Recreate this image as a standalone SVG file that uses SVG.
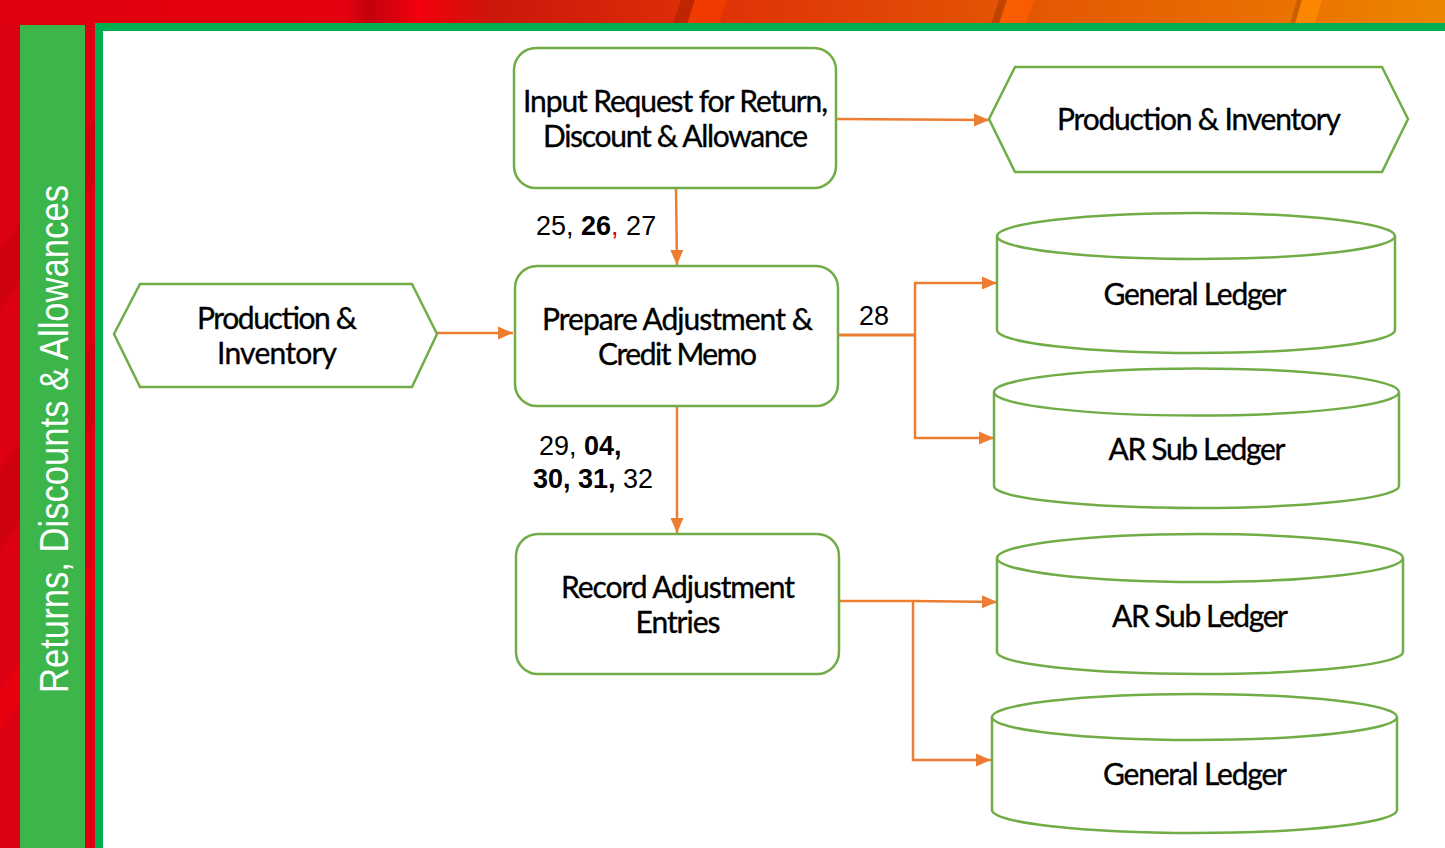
<svg xmlns="http://www.w3.org/2000/svg" width="1445" height="848" viewBox="0 0 1445 848">
  <defs>
    <linearGradient id="band" x1="0" y1="0" x2="1445" y2="0" gradientUnits="userSpaceOnUse">
      <stop offset="0" stop-color="#e1000f"/>
      <stop offset="0.24" stop-color="#e3000f"/>
      <stop offset="0.255" stop-color="#c3000e"/>
      <stop offset="0.29" stop-color="#f2000c"/>
      <stop offset="0.34" stop-color="#cc160a"/>
      <stop offset="0.5" stop-color="#df3208"/>
      <stop offset="0.7" stop-color="#e35504"/>
      <stop offset="0.88" stop-color="#ea7000"/>
      <stop offset="1" stop-color="#ec8600"/>
    </linearGradient>
    <marker id="arrow" markerUnits="userSpaceOnUse" markerWidth="16" markerHeight="14" refX="15" refY="7" orient="auto">
      <path d="M0,0.5 L15,7 L0,13.5 z" fill="#ed7d31"/>
    </marker>
    <style>
      .node { fill: #ffffff; stroke: #70ad47; stroke-width: 2.5; }
      .label { font-family: Lato, "Liberation Sans", sans-serif; font-size: 30px; fill: #000000; stroke: #000000; stroke-width: 0.35; text-anchor: middle; }
      .num { font-family: "Liberation Sans", Arial, sans-serif; font-size: 27px; fill: #000000; }
      .b { font-weight: bold; }
      .conn { fill: none; stroke: #ed7d31; stroke-width: 2.5; }
    </style>
  </defs>

  <!-- page background -->
  <rect x="0" y="0" width="1445" height="848" fill="#dc0012"/>
  <rect x="0" y="0" width="1445" height="24" fill="url(#band)"/>
  <!-- diagonal streaks in the header band -->
  <polygon points="673,24 681,0 695,0 687,24" fill="#b52400" opacity="0.8"/>
  <polygon points="687,24 695,0 727,0 719,24" fill="#f23c00" opacity="0.9"/>
  <polygon points="991,24 999,0 1007,0 999,24" fill="#b84000" opacity="0.8"/>
  <polygon points="999,24 1007,0 1034,0 1026,24" fill="#fb5e00" opacity="0.9"/>
  <polygon points="1290,24 1297,0 1302,0 1295,24" fill="#c25a00" opacity="0.8"/>
  <polygon points="1295,24 1302,0 1322,0 1315,24" fill="#ff8800" opacity="0.9"/>
  <!-- diagonal streaks in the side strip -->
  <polygon points="0,250 95,120 95,180 0,310" fill="#c7000f" opacity="0.6"/>
  <polygon points="0,470 95,340 95,420 0,550" fill="#c7000f" opacity="0.6"/>
  <polygon points="0,690 95,560 95,600 0,730" fill="#f0000e" opacity="0.6"/>

  <!-- title strip -->
  <rect x="20" y="25" width="65" height="823" fill="#3cb54a"/>
  <text transform="translate(68,439) rotate(-90)" text-anchor="middle" textLength="508" lengthAdjust="spacingAndGlyphs" font-family="'Liberation Sans Narrow', 'Liberation Sans', sans-serif" font-size="40" fill="#ffffff">Returns, Discounts &amp; Allowances</text>

  <!-- content frame -->
  <rect x="95" y="23" width="1350" height="825" fill="#00b050"/>
  <rect x="103" y="31" width="1342" height="817" fill="#ffffff"/>

  <!-- connectors -->
  <g id="connectors">
    <path class="conn" d="M837,119 L989,120" marker-end="url(#arrow)"/>
    <path class="conn" d="M676,189 L677,265" marker-end="url(#arrow)"/>
    <path class="conn" d="M437,333 L513,333" marker-end="url(#arrow)"/>
    <path class="conn" d="M838,335 H915" style="stroke-width:3.2"/>
    <path class="conn" d="M915,335 V283 H997" marker-end="url(#arrow)"/>
    <path class="conn" d="M915,335 V438 H994" marker-end="url(#arrow)"/>
    <path class="conn" d="M677,406 V533" marker-end="url(#arrow)"/>
    <path class="conn" d="M839,601 H913 L997,602" marker-end="url(#arrow)"/>
    <path class="conn" d="M913,601 V760 H991" marker-end="url(#arrow)"/>
  </g>

  <!-- connector labels -->
  <g id="connector-labels">
    <text class="num" x="536" y="235">25, <tspan class="b">26</tspan><tspan fill="#e00000">,</tspan> 27</text>
    <text class="num" x="859" y="325">28</text>
    <text class="num" x="539" y="455">29, <tspan class="b">04,</tspan></text>
    <text class="num" x="533" y="488"><tspan class="b">30, 31,</tspan> 32</text>
  </g>

  <g id="input-request">
    <rect class="node" x="514" y="48" width="322" height="140" rx="22"/>
    <text class="label" x="675.5" y="112" textLength="305">Input Request for Return,</text>
    <text class="label" x="675.5" y="147" textLength="265">Discount &amp; Allowance</text>
  </g>

  <g id="production-inventory-out">
    <polygon class="node" points="989,119 1015,67 1382,67 1408,119 1382,172 1015,172"/>
    <text class="label" x="1199" y="130" textLength="284">Production &amp; Inventory</text>
  </g>

  <g id="production-inventory-in">
    <polygon class="node" points="114,334 140,284 412,284 437,334 412,387 140,387"/>
    <text class="label" x="277" y="329" textLength="160">Production &amp;</text>
    <text class="label" x="277" y="364" textLength="120">Inventory</text>
  </g>

  <g id="prepare-adjustment">
    <rect class="node" x="515" y="266" width="323" height="140" rx="22"/>
    <text class="label" x="677.5" y="330" textLength="271">Prepare Adjustment &amp;</text>
    <text class="label" x="677.5" y="365" textLength="159">Credit Memo</text>
  </g>

  <g id="record-adjustment">
    <rect class="node" x="516" y="534" width="323" height="140" rx="22"/>
    <text class="label" x="678" y="598" textLength="234">Record Adjustment</text>
    <text class="label" x="678" y="633" textLength="85">Entries</text>
  </g>

  <g id="general-ledger-1">
    <path class="node" d="M997,236 V330 A199,23 0 0 0 1395,330 V236"/>
    <ellipse class="node" cx="1196" cy="236" rx="199" ry="23"/>
    <text class="label" x="1195" y="305" textLength="183">General Ledger</text>
  </g>

  <g id="ar-sub-ledger-1">
    <path class="node" d="M994,392 V486 A202.5,22 0 0 0 1399,486 V392"/>
    <ellipse class="node" cx="1196.5" cy="392" rx="202.5" ry="23.5"/>
    <text class="label" x="1197" y="460" textLength="177">AR Sub Ledger</text>
  </g>

  <g id="ar-sub-ledger-2">
    <path class="node" d="M997,558 V652 A203,22 0 0 0 1403,652 V558"/>
    <ellipse class="node" cx="1200" cy="558" rx="203" ry="24"/>
    <text class="label" x="1200" y="627" textLength="176">AR Sub Ledger</text>
  </g>

  <g id="general-ledger-2">
    <path class="node" d="M992,717 V810 A202.5,23 0 0 0 1397,810 V717"/>
    <ellipse class="node" cx="1194.5" cy="717" rx="202.5" ry="23"/>
    <text class="label" x="1195" y="785" textLength="184">General Ledger</text>
  </g>
</svg>
